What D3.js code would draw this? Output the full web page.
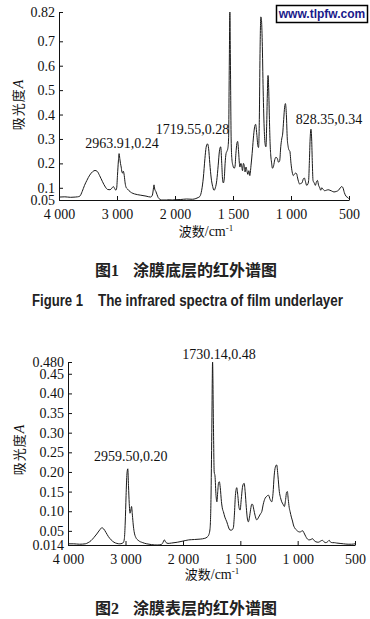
<!DOCTYPE html>
<html>
<head>
<meta charset="utf-8">
<script src="https://cdn.jsdelivr.net/npm/d3@7"></script>
<style>
  body { margin: 0; background: #fff; }
  svg { display: block; }
</style>
</head>
<body>
<script>
// spectrum of the film underlayer: [wavenumber cm-1, absorbance]
const underlayerSpectrum = [
  [4000,0.062],[3900,0.063],[3800,0.061],[3720,0.062],[3680,0.063],[3640,0.066],[3600,0.085],[3560,0.11],
  [3520,0.13],[3470,0.152],[3420,0.166],[3379,0.171],[3340,0.167],[3300,0.15],[3250,0.125],[3200,0.103],
  [3160,0.093],[3120,0.092],[3090,0.098],[3064,0.105],[3040,0.097],[3020,0.09],[3005,0.1],[2992,0.15],
  [2976,0.21],[2964,0.24],[2952,0.22],[2940,0.2],[2928,0.185],[2915,0.165],[2903,0.16],[2891,0.168],
  [2875,0.15],[2860,0.12],[2845,0.103],[2820,0.095],[2793,0.088],[2750,0.08],[2700,0.075],[2600,0.07],
  [2500,0.066],[2420,0.062],[2390,0.07],[2370,0.1],[2362,0.112],[2350,0.095],[2330,0.085],[2310,0.072],
  [2290,0.06],[2260,0.053],[2230,0.05],[2150,0.05],[2100,0.051],[2050,0.05],[2000,0.051],[1950,0.052],
  [1900,0.054],[1850,0.053],[1820,0.056],[1800,0.06],[1785,0.065],[1770,0.09],[1756,0.14],[1742,0.22],
  [1732,0.265],[1720,0.28],[1710,0.26],[1700,0.2],[1688,0.14],[1675,0.105],[1664,0.09],[1652,0.1],
  [1640,0.13],[1628,0.19],[1617,0.25],[1606,0.268],[1597,0.2],[1590,0.135],[1583,0.12],[1575,0.14],
  [1568,0.2],[1560,0.24],[1552,0.25],[1545,0.26],[1538,0.3],[1532,0.6],[1527,0.82],[1522,0.6],
  [1516,0.3],[1510,0.22],[1500,0.19],[1490,0.18],[1483,0.186],[1475,0.24],[1467,0.28],[1460,0.29],
  [1452,0.25],[1445,0.2],[1440,0.185],[1432,0.2],[1425,0.19],[1418,0.17],[1410,0.2],[1403,0.19],
  [1396,0.165],[1388,0.185],[1380,0.17],[1372,0.155],[1363,0.17],[1355,0.15],[1345,0.19],[1335,0.24],
  [1325,0.3],[1315,0.345],[1305,0.36],[1295,0.32],[1285,0.27],[1280,0.265],[1273,0.38],[1267,0.65],
  [1260,0.8],[1255,0.79],[1248,0.7],[1240,0.5],[1230,0.33],[1222,0.275],[1216,0.268],[1210,0.35],
  [1204,0.48],[1198,0.56],[1192,0.5],[1186,0.38],[1180,0.28],[1174,0.23],[1168,0.205],[1160,0.18],
  [1150,0.19],[1140,0.215],[1130,0.225],[1118,0.22],[1108,0.205],[1098,0.21],[1088,0.27],[1080,0.3],
  [1072,0.32],[1063,0.38],[1055,0.43],[1048,0.445],[1040,0.4],[1032,0.3],[1025,0.27],[1018,0.255],
  [1010,0.25],[1000,0.2],[990,0.165],[980,0.15],[972,0.155],[962,0.16],[952,0.158],[943,0.14],
  [935,0.125],[925,0.115],[915,0.118],[905,0.12],[895,0.135],[885,0.14],[875,0.125],[865,0.11],
  [855,0.115],[848,0.13],[842,0.2],[835,0.3],[828,0.34],[822,0.3],[816,0.2],[810,0.13],
  [800,0.12],[790,0.11],[780,0.125],[772,0.13],[762,0.11],[752,0.1],[744,0.09],[735,0.1],
  [725,0.095],[710,0.088],[695,0.09],[680,0.092],[665,0.09],[650,0.087],[630,0.083],[610,0.085],
  [590,0.09],[575,0.1],[563,0.105],[552,0.1],[540,0.08],[525,0.065],[510,0.06],[500,0.055]
];

// spectrum of the film surface layer
const surfaceSpectrum = [
  [4000,0.017],[3900,0.017],[3800,0.016],[3700,0.017],[3650,0.02],[3600,0.025],[3550,0.033],[3500,0.042],
  [3450,0.052],[3410,0.058],[3380,0.055],[3340,0.046],[3300,0.036],[3250,0.027],[3200,0.021],[3150,0.018],
  [3100,0.017],[3060,0.018],[3035,0.021],[3020,0.03],[3005,0.07],[2990,0.14],[2975,0.195],[2960,0.208],
  [2948,0.165],[2935,0.12],[2922,0.095],[2910,0.1],[2895,0.112],[2880,0.09],[2865,0.065],[2850,0.048],
  [2820,0.033],[2780,0.026],[2700,0.02],[2630,0.017],[2550,0.015],[2450,0.014],[2380,0.015],[2350,0.02],
  [2325,0.027],[2300,0.021],[2260,0.018],[2200,0.019],[2100,0.021],[2000,0.024],[1950,0.027],[1900,0.028],
  [1850,0.029],[1810,0.031],[1790,0.034],[1775,0.04],[1764,0.056],[1756,0.13],[1749,0.3],[1742,0.48],
  [1735,0.33],[1728,0.2],[1721,0.19],[1712,0.14],[1704,0.124],[1697,0.15],[1690,0.172],[1683,0.175],
  [1675,0.16],[1665,0.125],[1655,0.105],[1648,0.099],[1635,0.085],[1618,0.073],[1604,0.06],[1590,0.052],
  [1575,0.052],[1561,0.058],[1552,0.09],[1543,0.14],[1531,0.16],[1522,0.14],[1512,0.11],[1502,0.103],
  [1492,0.13],[1482,0.16],[1472,0.17],[1467,0.171],[1458,0.15],[1448,0.11],[1438,0.08],[1430,0.073],
  [1420,0.085],[1410,0.105],[1400,0.118],[1392,0.117],[1383,0.105],[1372,0.09],[1357,0.078],[1340,0.085],
  [1325,0.093],[1313,0.099],[1300,0.118],[1284,0.133],[1270,0.138],[1255,0.141],[1240,0.13],[1226,0.124],
  [1215,0.145],[1205,0.19],[1195,0.212],[1183,0.218],[1172,0.19],[1160,0.15],[1150,0.135],[1139,0.124],
  [1128,0.118],[1116,0.112],[1105,0.13],[1097,0.148],[1090,0.15],[1082,0.13],[1074,0.11],[1066,0.099],
  [1055,0.085],[1045,0.075],[1037,0.065],[1025,0.057],[1010,0.052],[993,0.048],[975,0.047],[965,0.05],
  [955,0.05],[945,0.045],[930,0.036],[920,0.031],[900,0.027],[885,0.028],[870,0.03],[855,0.025],
  [840,0.022],[820,0.021],[800,0.024],[785,0.026],[770,0.022],[755,0.02],[740,0.022],[725,0.026],
  [712,0.021],[695,0.02],[680,0.02],[660,0.019],[630,0.018],[600,0.017],[560,0.016],[530,0.016],[500,0.017]
];

const wnTicks = [4000, 3000, 2000, 1500, 1000, 500];
const yTicks1 = [0.05, 0.1, 0.2, 0.3, 0.4, 0.5, 0.6, 0.7, 0.82];
const yTickLabels1 = ['0.05', '0.1', '0.2', '0.3', '0.4', '0.5', '0.6', '0.7', '0.82'];
const yTicks2 = [0.014, 0.05, 0.10, 0.15, 0.20, 0.25, 0.30, 0.35, 0.40, 0.45, 0.48];
const yTickLabels2 = ['0.014', '0.05', '0.10', '0.15', '0.20', '0.25', '0.30', '0.35', '0.40', '0.45', '0.480'];

const peaks1 = [[2963.91, 0.24], [1719.55, 0.28], [828.35, 0.34]];
const peaks2 = [[2959.50, 0.20], [1730.14, 0.48]];

const W = 370, H = 619;
const serif = "'Liberation Serif', 'Times New Roman', serif";
const cjk = "'Noto Sans CJK SC', sans-serif";

const svg = d3.select('body').append('svg')
  .attr('width', W)
  .attr('height', H);

const wnFormat = d3.formatLocale({decimal: '.', thousands: ' ', grouping: [3], currency: ['', '']}).format(',d');

function drawSpectrum(cfg) {
  const x = d3.scaleLinear()
    .domain([4000, 2000, 500])
    .range(cfg.xRange);
  const y = d3.scaleLinear()
    .domain(cfg.yDomain)
    .range(cfg.yRange);

  const g = svg.append('g');

  const xAxis = d3.axisBottom(x)
    .tickValues(wnTicks)
    .tickFormat(wnFormat)
    .tickSizeInner(-4)
    .tickSizeOuter(0)
    .tickPadding(9);

  const yAxis = d3.axisLeft(y)
    .tickValues(cfg.yTicks)
    .tickFormat((d, i) => cfg.yLabels[i])
    .tickSizeInner(-4)
    .tickSizeOuter(0)
    .tickPadding(4);

  g.append('g')
    .attr('transform', 'translate(0,' + cfg.yRange[0] + ')')
    .call(xAxis)
    .call(a => a.selectAll('text').style('font', '14px ' + serif).attr('fill', '#111'));

  g.append('g')
    .attr('transform', 'translate(' + cfg.xRange[0] + ',0)')
    .call(yAxis)
    .call(a => a.selectAll('text').style('font', '14px ' + serif).attr('fill', '#111'));

  g.selectAll('.domain, .tick line').attr('stroke', '#111');

  const line = d3.line()
    .x(d => x(d[0]))
    .y(d => y(d[1]))
    .curve(d3.curveMonotoneX);

  g.append('path')
    .datum(cfg.data)
    .attr('d', line)
    .attr('fill', 'none')
    .attr('stroke', '#1a1a1a')
    .attr('stroke-width', 1);

  // peak annotations
  g.selectAll('.peak')
    .data(cfg.peaks)
    .enter()
    .append('text')
    .attr('class', 'peak')
    .attr('x', (d, i) => x(d[0]) + cfg.peakOffsets[i][0])
    .attr('y', (d, i) => y(d[1]) + cfg.peakOffsets[i][1])
    .attr('text-anchor', 'middle')
    .style('font', '14px ' + serif)
    .attr('fill', '#111')
    .text(d => d[0].toFixed(2) + ',' + d[1].toFixed(2));

  // y label
  const yl = g.append('text')
    .attr('transform', 'translate(' + cfg.yLabelPos[0] + ',' + cfg.yLabelPos[1] + ') rotate(-90)')
    .attr('text-anchor', 'middle')
    .attr('fill', '#111');
  yl.append('tspan').style('font', '13px ' + cjk).attr('letter-spacing', 1).text('吸光度');
  yl.append('tspan').style('font', 'italic 14px ' + serif).text('A');

  // x label
  const xl = g.append('text')
    .attr('x', cfg.xLabelPos[0])
    .attr('y', cfg.xLabelPos[1])
    .attr('text-anchor', 'middle')
    .attr('fill', '#111');
  xl.append('tspan').style('font', '13px ' + cjk).text('波数');
  xl.append('tspan').style('font', '14px ' + serif).text('/cm');
  xl.append('tspan').style('font', '9px ' + serif).attr('dy', -5).text('-1');
}

drawSpectrum({
  data: underlayerSpectrum,
  xRange: [59, 175, 349],
  yDomain: [0.05, 0.82],
  yRange: [200, 12],
  yTicks: yTicks1,
  yLabels: yTickLabels1,
  peaks: peaks1,
  peakOffsets: [[3, -6], [-15, -10], [18, -5]],
  yLabelPos: [23, 105],
  xLabelPos: [206, 236]
});

drawSpectrum({
  data: surfaceSpectrum,
  xRange: [68, 183, 355],
  yDomain: [0.014, 0.48],
  yRange: [545, 362],
  yTicks: yTicks2,
  yLabels: yTickLabels2,
  peaks: peaks2,
  peakOffsets: [[3, -11], [5, -3]],
  yLabelPos: [24, 450],
  xLabelPos: [212, 579]
});

// captions
function cnCaption(num, title, yPos) {
  const t = svg.append('text').attr('y', yPos).attr('fill', '#222');
  t.append('tspan').attr('x', 95).style('font', 'bold 16px ' + cjk).text('图');
  t.append('tspan').style('font', 'bold 16px ' + serif).text(num);
  t.append('tspan').attr('x', 133).style('font', 'bold 16px ' + cjk).text(title);
}
cnCaption('1', '涂膜底层的红外谱图', 276);
cnCaption('2', '涂膜表层的红外谱图', 614);

const enFont = "bold 16px 'Liberation Sans Narrow', 'Liberation Sans', Arial, sans-serif";
const en = svg.append('text').attr('y', 306).attr('fill', '#222');
en.append('tspan').attr('x', 32).style('font', enFont)
  .attr('textLength', 51).attr('lengthAdjust', 'spacingAndGlyphs').text('Figure 1');
en.append('tspan').attr('x', 98).style('font', enFont)
  .attr('textLength', 245).attr('lengthAdjust', 'spacingAndGlyphs').text('The infrared spectra of film underlayer');

// watermark box
svg.append('rect')
  .attr('x', 276.5).attr('y', 5.5)
  .attr('width', 91).attr('height', 17)
  .attr('fill', '#fff')
  .attr('stroke', '#000')
  .attr('stroke-width', 1.5);
svg.append('text')
  .attr('x', 322).attr('y', 18)
  .attr('text-anchor', 'middle')
  .style('font', "bold 12px 'Liberation Sans', Arial, sans-serif")
  .attr('fill', '#1a1a8a')
  .text('www.tlpfw.com');
</script>
</body>
</html>
